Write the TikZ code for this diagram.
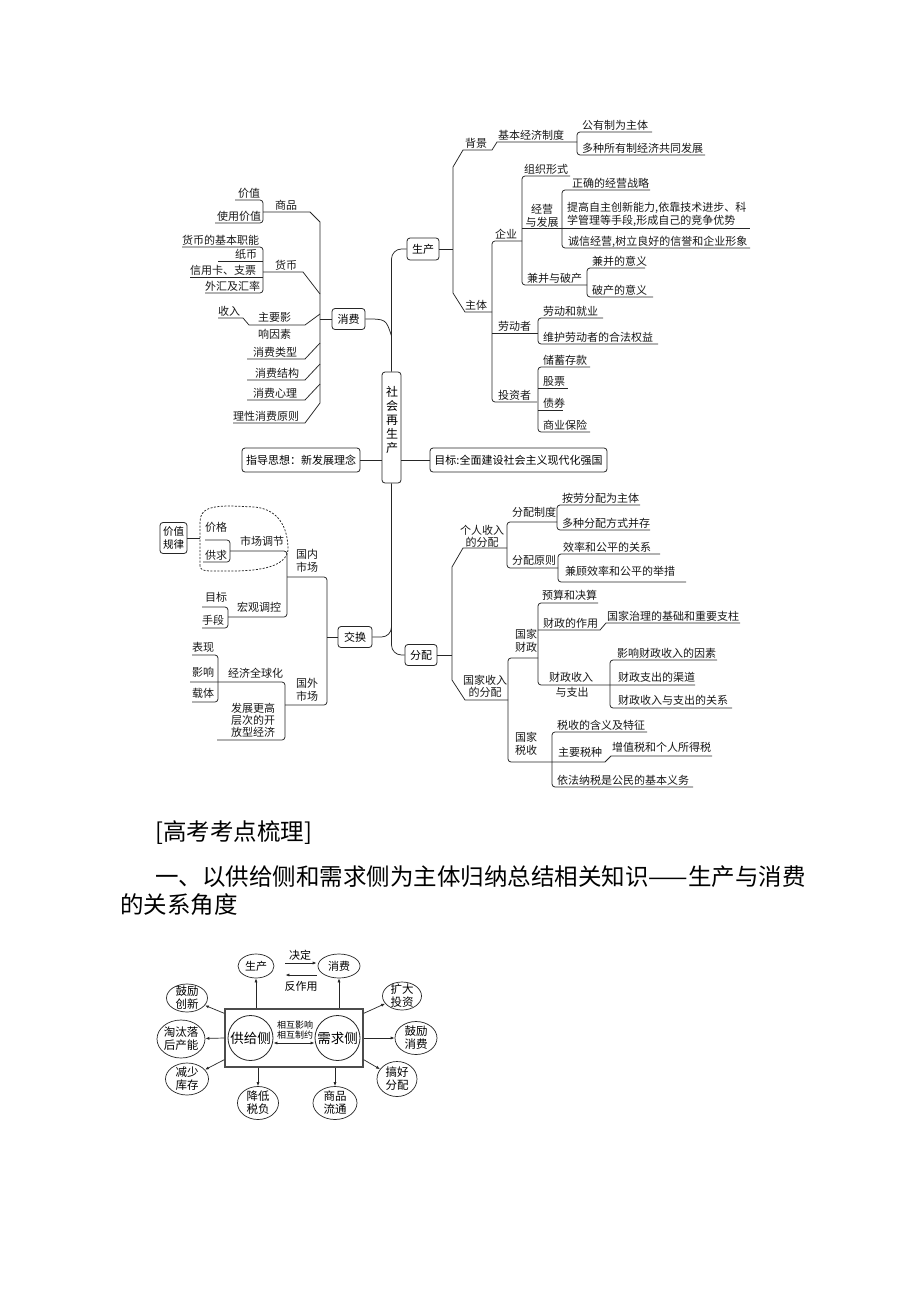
\documentclass[tikz,border=0pt]{standalone}
\usepackage{fontspec}
\setmainfont{Noto Sans CJK SC}
\usetikzlibrary{shapes.geometric,arrows.meta,calc}
\newcommand\mmf{\fontsize{11}{13}\selectfont}
\begin{document}
\begin{tikzpicture}[x=1pt,y=-1pt,
  ln/.style={draw=black!85,line width=0.75pt},
  rc/.style={ln,rounded corners=3pt},
  lab/.style={font=\mmf,inner sep=0pt,anchor=base west,text=black!90},
  clab/.style={font=\mmf,inner sep=0pt,align=center,text=black!90},
  bx/.style={draw=black!85,line width=0.8pt,rounded corners=3pt,font=\mmf,inner sep=0pt,minimum height=21pt},
  arr/.style={draw=black!85,line width=0.7pt,-{Latex[length=4pt,width=3pt]}},
  ell/.style={ellipse,draw=black!85,line width=0.7pt,inner sep=0pt},
  elt/.style={font=\fontsize{11.5}{13}\selectfont,align=center,inner sep=0pt}
]
\useasboundingbox[fill=white] (0,0) rectangle (920,1302);

% ---------- central ----------
\node[bx,minimum width=19pt,minimum height=111pt] (sc) at (391.5,427.5) {};
\node[font=\fontsize{12}{14}\selectfont,align=center,inner sep=0pt] (sct) at (392,420) {社\\会\\再\\生\\产};
\node[bx,minimum width=32pt,minimum height=22pt] (sp) at (423,249) {生产};
\node[bx,minimum width=33pt] (xf) at (348.5,319) {消费};
\node[bx,minimum width=34pt] (jh) at (355,637) {交换};
\node[bx,minimum width=32pt] (fp) at (421,655) {分配};
\node[bx,minimum width=118pt,minimum height=24pt] (zd) at (301,460) {指导思想：新发展理念};
\node[bx,minimum width=177pt,minimum height=24pt] (mb) at (518.5,460) {目标:全面建设社会主义现代化强国};
\node[bx,minimum width=27pt,minimum height=31pt,align=center,font=\fontsize{10.5}{12.5}\selectfont] (jz) at (173.5,538) {价值\\规律};

\draw[ln,rounded corners=10pt] (sc.north) |- (sp.west);
\draw[ln] (xf.east) .. controls (386,319) .. (391.5,336);
\draw[ln] (zd.east) -- (zd.east -| sc.west);
\draw[ln] (mb.west) -- (mb.west -| sc.east);
\draw[ln,rounded corners=10pt] (sc.south) |- (fp.west);
\draw[ln,rounded corners=10pt] (391.5,600) |- (jh.east);

% ---------- production ----------
\draw[ln] (sp.east) -- (453,249);
\draw[ln] (577,142) -- (497,142) -- (492,150) -- (463,150) -- (453,167) -- (453,293) -- (465,312) -- (492,312);
\draw[rc] (652,132) -| (577,155) -- (705,155);
\draw[rc] (537,402) -| (492,241) -- (522,241);
\draw[ln] (492,333) -- (538,333);
\draw[rc] (570,176) -| (522,285) -- (587,285);
\draw[ln] (522,228) -- (750,228);
\draw[rc] (650,190) -| (562,248) -- (750,248);
\draw[rc] (645,268) -| (587,297) -- (653,297);
\draw[rc] (603,318) -| (538,344) -- (658,344);
\draw[rc] (590,367) -| (538,432) -- (590,432);
\draw[ln] (538,388) -- (568,388);
\draw[ln] (538,410) -- (563,410);

\node[lab] (l1) at (465,147) {背景};
\node[lab] (l2) at (498,139) {基本经济制度};
\node[lab] (l3) at (582,129) {公有制为主体};
\node[lab] (l4) at (582,152) {多种所有制经济共同发展};
\node[lab] (l5) at (524,173) {组织形式};
\node[clab] (l6) at (542,216) {经营\\与发展};
\node[lab] (l7) at (572,187) {正确的经营战略};
\node[clab,align=left,anchor=west] (l8) at (567,214) {提高自主创新能力,依靠技术进步、科\\学管理等手段,形成自己的竞争优势};
\node[lab] (l9) at (568,245) {诚信经营,树立良好的信誉和企业形象};
\node[lab] (l10) at (495,238) {企业};
\node[lab] (l11) at (527,282) {兼并与破产};
\node[lab] (l12) at (592,265) {兼并的意义};
\node[lab] (l13) at (592,294) {破产的意义};
\node[lab] (l14) at (465,309) {主体};
\node[lab] (l15) at (498,330) {劳动者};
\node[lab] (l16) at (543,315) {劳动和就业};
\node[lab] (l17) at (543,341) {维护劳动者的合法权益};
\node[lab] (l18) at (498,399) {投资者};
\node[lab] (l19) at (543,364) {储蓄存款};
\node[lab] (l20) at (543,385) {股票};
\node[lab] (l21) at (543,407) {债券};
\node[lab] (l22) at (543,429) {商业保险};

% ---------- consumption ----------
\draw[ln] (263,212) -- (310,212) -- (320,222) -- (320,403) -- (305,423) -- (233,423);
\draw[rc] (235,200) -| (263,223) -- (215,223);
\draw[rc] (182,247) -| (263,293) -- (205,293);
\draw[ln] (218,261) -- (263,261);
\draw[ln] (190,277) -- (263,277);
\draw[ln] (263,272) -- (303,272) -- (320,294);
\draw[ln] (320,319) -- (xf.west);
\draw[ln] (218,318) -- (243,318) -- (249,325) -- (305,325) -- (320,314);
\draw[ln] (247,359) -- (305,359) -- (320,343);
\draw[ln] (247,380) -- (305,380) -- (320,364);
\draw[ln] (247,400) -- (305,400) -- (320,384);

\node[lab] (c1) at (238,197) {价值};
\node[lab] (c2) at (217,220) {使用价值};
\node[lab] (c3) at (275,209) {商品};
\node[lab] (c4) at (182,244) {货币的基本职能};
\node[lab] (c5) at (235,258) {纸币};
\node[lab] (c6) at (190,274) {信用卡、支票};
\node[lab] (c7) at (205,290) {外汇及汇率};
\node[lab] (c8) at (275,269) {货币};
\node[lab] (c9) at (218,315) {收入};
\node[lab] (c10) at (258,321) {主要影};
\node[lab] (c11) at (258,338) {响因素};
\node[lab] (c12) at (253,356) {消费类型};
\node[lab] (c13) at (255,377) {消费结构};
\node[lab] (c14) at (253,397) {消费心理};
\node[lab] (c15) at (233,420) {理性消费原则};

% ---------- exchange ----------
\draw[ln] (jh.west) -- (327,637);
\draw[rc] (287,577) -| (327,705) -- (285,705);
\draw[rc] (230,551) -| (287,617) -- (228,617);
\draw[rc] (205,540) -| (230,562) -- (203,562);
\draw[ln] (jz.east) -- (200,538);
\draw[ln,dash pattern=on 2pt off 1.5pt] (200,566) -- (200,522) .. controls (200,508) and (212,506) .. (232,506) -- (255,507) .. controls (282,510) and (288,532) .. (288,550) .. controls (286,566) and (262,571) .. (232,571) -- (210,571) .. controls (203,571) and (200,569) .. (200,566);
\draw[rc] (202,607) -| (228,628) -- (202,628);
\draw[rc] (190,682) -| (285,740) -- (217,740);
\draw[rc] (192,655) -| (218,702) -- (192,702);

\node[lab] (x1) at (205,531) {价格};
\node[lab] (x2) at (205,559) {供求};
\node[lab] (x3) at (240,545) {市场调节};
\node[clab] (x4) at (307,561) {国内\\市场};
\node[lab] (x5) at (205,601) {目标};
\node[lab] (x6) at (202,624) {手段};
\node[lab] (x7) at (237,611) {宏观调控};
\node[lab] (x8) at (192,651) {表现};
\node[lab] (x9) at (192,676) {影响};
\node[lab] (x10) at (192,697) {载体};
\node[lab] (x11) at (228,677) {经济全球化};
\node[clab,font=\fontsize{11}{12}\selectfont] (x12) at (253,720) {发展更高\\层次的开\\放型经济};
\node[clab] (x13) at (307,690) {国外\\市场};

% ---------- distribution ----------
\draw[ln] (fp.east) -- (452,655);
\draw[ln] (507,548) -- (463,548) -- (452,567) -- (452,680) -- (465,700) -- (508,700);
\draw[rc] (557,522) -| (507,568) -- (558,568);
\draw[rc] (640,505) -| (557,530) -- (650,530);
\draw[rc] (660,554) -| (558,582) -- (686,582);
\draw[rc] (538,658) -| (508,762) -- (552,762);
\draw[rc] (598,603) -| (538,685) -- (695,685);
\draw[ln] (538,630) -- (600,630) -- (606,623) -- (740,623);
\draw[rc] (717,660) -| (610,708) -- (732,708);
\draw[rc] (647,732) -| (552,787) -- (693,787);
\draw[ln] (552,762) -- (605,762) -- (611,756) -- (712,756);

\node[clab,font=\fontsize{11}{12}\selectfont] (d1) at (482,536) {个人收入\\的分配};
\node[lab] (d2) at (512,516) {分配制度};
\node[lab] (d3) at (562,502) {按劳分配为主体};
\node[lab] (d4) at (562,527) {多种分配方式并存};
\node[lab] (d5) at (512,564) {分配原则};
\node[lab] (d6) at (563,551) {效率和公平的关系};
\node[lab] (d7) at (565,575) {兼顾效率和公平的举措};
\node[clab,font=\fontsize{11}{12}\selectfont] (d8) at (485,686) {国家收入\\的分配};
\node[clab] (d9) at (526,641) {国家\\财政};
\node[lab] (d10) at (542,599) {预算和决算};
\node[lab] (d11) at (543,627) {财政的作用};
\node[lab] (d12) at (607,620) {国家治理的基础和重要支柱};
\node[clab] (d13) at (571,677) {财政收入};
\node[clab] (d14) at (572,692) {与支出};
\node[lab] (d15) at (617,657) {影响财政收入的因素};
\node[lab] (d16) at (618,681) {财政支出的渠道};
\node[lab] (d17) at (618,704) {财政收入与支出的关系};
\node[clab] (d18) at (526,744) {国家\\税收};
\node[lab] (d19) at (557,729) {税收的含义及特征};
\node[lab] (d20) at (558,756) {主要税种};
\node[lab] (d21) at (612,751) {增值税和个人所得税};
\node[lab] (d22) at (557,784) {依法纳税是公民的基本义务};

% ---------- text ----------
\node[font=\fontsize{23.5}{26}\selectfont,anchor=west,inner sep=0pt] (t1) at (155,833) {[高考考点梳理]};
\node[font=\fontsize{23.5}{26}\selectfont,anchor=west,inner sep=0pt] (t2) at (155,877) {一、以供给侧和需求侧为主体归纳总结相关知识——生产与消费};
\node[font=\fontsize{23.5}{26}\selectfont,anchor=west,inner sep=0pt] (t3) at (120,905) {的关系角度};

% ---------- bottom diagram ----------
\node[ell,minimum width=36pt,minimum height=24pt] (gp) at (256,966) {};
\node[elt,font=\fontsize{11}{12}\selectfont] at (gp) {生产};
\node[ell,minimum width=42pt,minimum height=24pt] (xf2) at (339,966) {};
\node[elt,font=\fontsize{11}{12}\selectfont] at (xf2) {消费};
\node[draw=black!70,line width=1.3pt,minimum width=138pt,minimum height=58pt,inner sep=0pt] (bxr) at (294,1038) {};
\node[circle,draw=black!85,line width=0.8pt,minimum size=45pt,inner sep=0pt,font=\fontsize{13.5}{15}\selectfont] (sup) at (250.5,1038) {供给侧};
\node[circle,draw=black!85,line width=0.8pt,minimum size=45pt,inner sep=0pt,font=\fontsize{13.5}{15}\selectfont] (dem) at (337.5,1038) {需求侧};
\node[font=\fontsize{9}{10.5}\selectfont,align=center,inner sep=0pt] (xh) at (295,1030) {相互影响\\相互制约};
\draw[ln,{Latex[length=4pt,width=3pt]}-{Latex[length=4pt,width=3pt]}] ($(sup.east)+(0,5)$) -- ($(dem.west)+(0,5)$);

\node[font=\fontsize{11}{12}\selectfont,inner sep=0pt] (jd) at (300,955) {决定};
\node[font=\fontsize{11}{12}\selectfont,inner sep=0pt] (fzy) at (301,986) {反作用};
\draw[arr] ($(gp.east)+(11,-3)$) -- ($(xf2.west)+(-1,-3)$);
\draw[arr] ($(xf2.west)+(-1,9)$) -- ($(gp.east)+(11,9)$);

\node[ell,minimum width=41pt,minimum height=28pt] (e1) at (187,998) {};
\node[elt] at (e1) {鼓励\\创新};
\node[ell,minimum width=48pt,minimum height=38pt] (e2) at (181,1039) {};
\node[elt] at (e2) {淘汰落\\后产能};
\node[ell,minimum width=43pt,minimum height=32pt] (e3) at (187,1079) {};
\node[elt] at (e3) {减少\\库存};
\node[ell,minimum width=41pt,minimum height=33pt] (e4) at (258,1103) {};
\node[elt] at (e4) {降低\\税负};
\node[ell,minimum width=44pt,minimum height=33pt] (e5) at (335,1103) {};
\node[elt] at (e5) {商品\\流通};
\node[ell,minimum width=39pt,minimum height=28pt] (e6) at (402,996) {};
\node[elt] at (e6) {扩大\\投资};
\node[ell,minimum width=42pt,minimum height=33pt] (e7) at (416,1038) {};
\node[elt] at (e7) {鼓励\\消费};
\node[ell,minimum width=40pt,minimum height=35pt] (e8) at (397,1079) {};
\node[elt] at (e8) {搞好\\分配};

\draw[arr] ($(bxr.north west)+(0,5)$) -- (e1);
\draw[arr] (bxr.west) -- (e2);
\draw[arr] ($(bxr.south west)+(0,-8)$) -- (e3);
\draw[arr] (bxr.south -| e4) -- (e4);
\draw[arr] (bxr.south -| e5) -- (e5);
\draw[arr] ($(bxr.north east)+(0,5)$) -- (e6);
\draw[arr] (bxr.east) -- (e7);
\draw[arr] ($(bxr.south east)+(0,-8)$) -- (e8);
\draw[arr] (bxr.north -| gp) -- (gp);
\draw[arr] (bxr.north -| xf2) -- (xf2);
\end{tikzpicture}
\end{document}
